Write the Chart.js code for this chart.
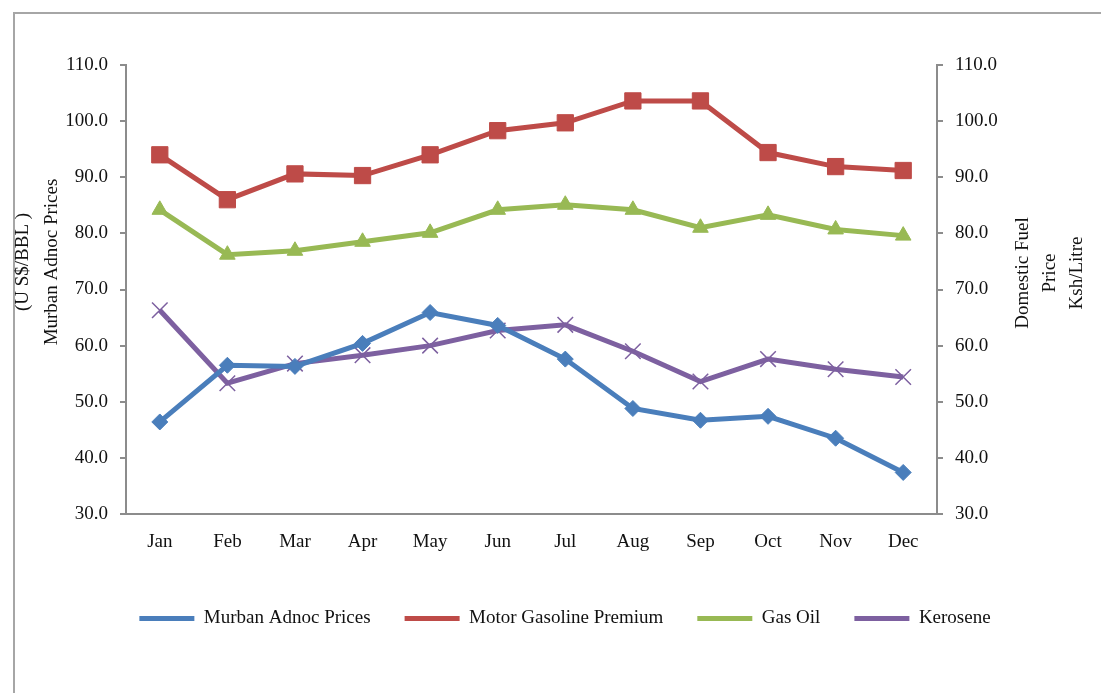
<!DOCTYPE html>
<html><head><meta charset="utf-8">
<script src="https://cdn.jsdelivr.net/npm/chart.js@4/dist/chart.umd.min.js"></script>
<style>
html,body{margin:0;padding:0;background:#fff;overflow:hidden;width:1101px;height:693px;}
#frame{position:absolute;left:13px;top:12px;width:1200px;height:800px;border:2px solid #a6a6a6;box-sizing:border-box;z-index:0;}
#wrap{position:absolute;left:0;top:0;width:1130px;height:693px;z-index:1;}
</style></head><body>
<div id="frame"></div>
<div id="wrap"><canvas id="c" width="1130" height="693"></canvas></div>
<script>
const months = ['Jan','Feb','Mar','Apr','May','Jun','Jul','Aug','Sep','Oct','Nov','Dec'];
const murbanAdnoc = [46.4, 56.5, 56.3, 60.4, 65.9, 63.6, 57.6, 48.8, 46.7, 47.4, 43.5, 37.4];
const motorGasoline = [94.0, 86.0, 90.6, 90.3, 94.0, 98.3, 99.7, 103.6, 103.6, 94.4, 91.9, 91.2];
const gasOil = [84.2, 76.2, 76.9, 78.5, 80.1, 84.2, 85.1, 84.2, 81.0, 83.3, 80.7, 79.6];
const kerosene = [66.3, 53.3, 56.8, 58.3, 60.0, 62.7, 63.7, 59.0, 53.6, 57.6, 55.8, 54.4];
const leftTitle = ['(U S$/BBL )', 'Murban Adnoc Prices'];
const rightTitle = ['Domestic Fuel', 'Price', 'Ksh/Litre'];
const axisMin = 30, axisMax = 110, axisStep = 10;

const FONT = '"Liberation Serif", "Times New Roman", serif';
const FS = 19;

const axisTitles = {
  id: 'axisTitles',
  afterDraw(chart) {
    const ctx = chart.ctx;
    const draw = (lines, x, y, gap) => {
      ctx.save();
      ctx.translate(x, y);
      ctx.rotate(-Math.PI / 2);
      ctx.fillStyle = '#111';
      ctx.font = FS + 'px ' + FONT;
      ctx.textAlign = 'center';
      ctx.textBaseline = 'middle';
      lines.forEach((t, i) => ctx.fillText(t, 0, i * gap));
      ctx.restore();
    };
    draw(leftTitle, 23, 262, 29);
    draw(rightTitle, 1023, 273, 27);
  }
};

function ds(label, data, color, style, radius, axis) {
  return {
    label, data, yAxisID: axis,
    borderColor: color, backgroundColor: color,
    pointBackgroundColor: color, pointBorderColor: color,
    borderWidth: 5, pointStyle: style, pointRadius: radius,
    pointBorderWidth: style === 'crossRot' ? 1.5 : 1,
    tension: 0, fill: false
  };
}

new Chart(document.getElementById('c'), {
  type: 'line',
  data: {
    labels: months,
    datasets: [
      ds('Murban Adnoc Prices', murbanAdnoc, '#4A7EBB', 'rectRot', 8, 'y'),
      ds('Motor Gasoline Premium', motorGasoline, '#BE4B48', 'rect', 11.5, 'y1'),
      ds('Gas Oil', gasOil, '#98B954', 'triangle', 9, 'y1'),
      ds('Kerosene', kerosene, '#7D60A0', 'crossRot', 11, 'y1')
    ]
  },
  options: {
    responsive: false,
    animation: false,
    devicePixelRatio: 1,
    layout: { padding: { top: 65, left: 0, right: 0, bottom: 55 } },
    plugins: {
      tooltip: { enabled: false },
      legend: {
        position: 'bottom',
        labels: {
          color: '#111',
          font: { family: FONT, size: FS },
          boxWidth: 55, boxHeight: 5, padding: 34,
          generateLabels(chart) {
            return chart.data.datasets.map((d, i) => ({
              text: d.label, fillStyle: d.borderColor, strokeStyle: d.borderColor,
              lineWidth: 0, datasetIndex: i, hidden: false, fontColor: '#111'
            }));
          }
        }
      }
    },
    scales: {
      x: {
        offset: true,
        grid: { display: false, drawTicks: false, offset: true },
        border: { display: true, color: '#8c8c8c', width: 2 },
        ticks: { color: '#111', font: { family: FONT, size: FS }, padding: 17, maxRotation: 0 },
        afterFit(s) { s.height = 61; }
      },
      y: {
        position: 'left', min: axisMin, max: axisMax,
        grid: { drawOnChartArea: false, drawTicks: true, tickLength: 6, color: '#8c8c8c', lineWidth: 2 },
        border: { display: true, color: '#8c8c8c', width: 2 },
        ticks: { stepSize: axisStep, color: '#111', font: { family: FONT, size: FS }, padding: 12,
                 callback: v => Number(v).toFixed(1) },
        afterFit(s) { s.width = 126; }
      },
      y1: {
        position: 'right', min: axisMin, max: axisMax,
        grid: { drawOnChartArea: false, drawTicks: true, tickLength: 6, color: '#8c8c8c', lineWidth: 2 },
        border: { display: true, color: '#8c8c8c', width: 2 },
        ticks: { stepSize: axisStep, color: '#111', font: { family: FONT, size: FS }, padding: 12,
                 callback: v => Number(v).toFixed(1) },
        afterFit(s) { s.width = 1130 - 937; }
      }
    }
  },
  plugins: [axisTitles]
});
</script>
</body></html>
